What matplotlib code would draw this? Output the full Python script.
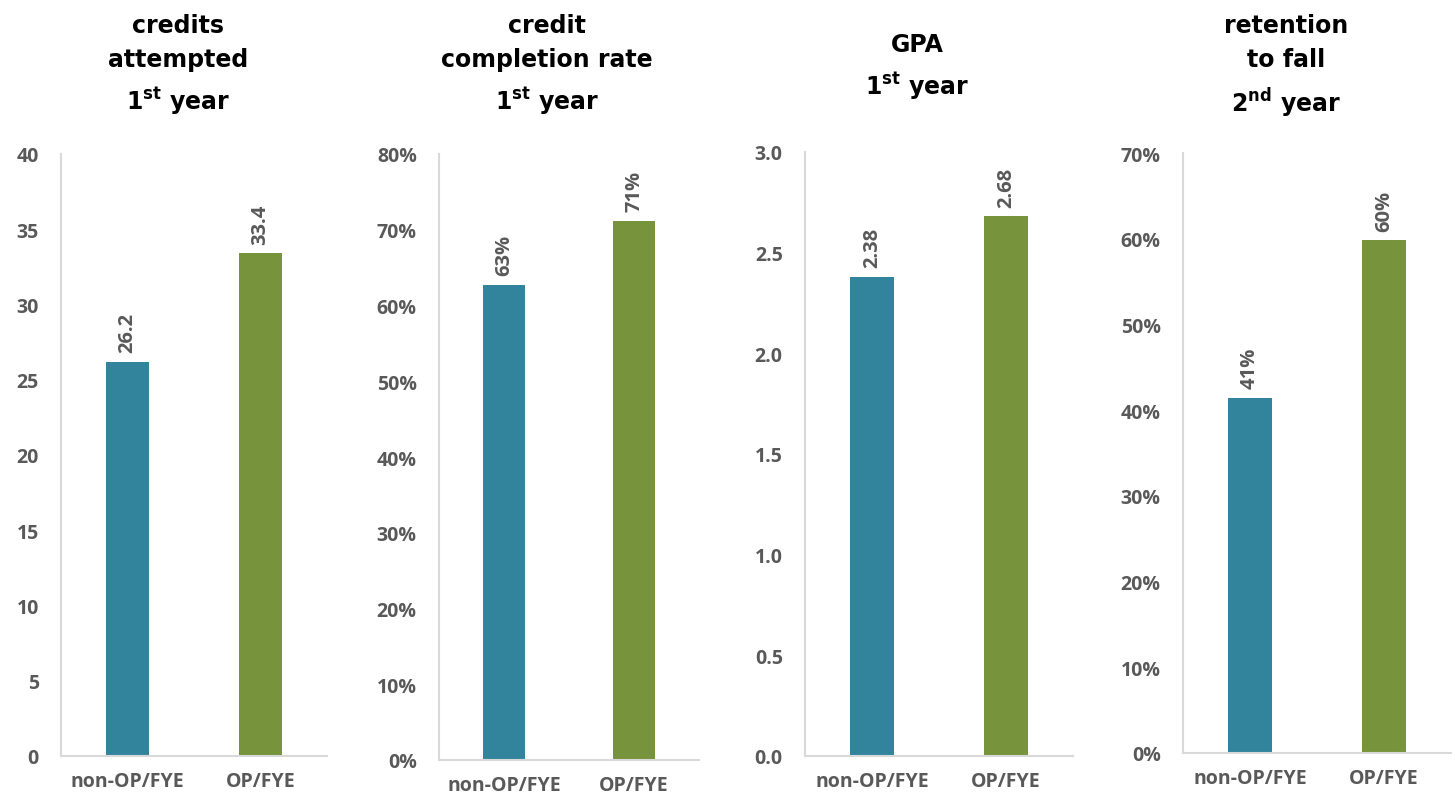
import matplotlib
matplotlib.use("Agg")
import matplotlib.pyplot as plt

# ---- data ----
groups = ["non-OP/FYE", "OP/FYE"]
credits_attempted = [26.2, 33.4]
completion_rate = [0.627, 0.712]
gpa = [2.38, 2.68]
retention = [0.414, 0.598]

titles = [
    "credits\nattempted\n1$^{\\mathbf{st}}$ year",
    "credit\ncompletion rate\n1$^{\\mathbf{st}}$ year",
    "GPA\n1$^{\\mathbf{st}}$ year",
    "retention\nto fall\n2$^{\\mathbf{nd}}$ year",
]
yticks = [
    [0, 5, 10, 15, 20, 25, 30, 35, 40],
    [0, .1, .2, .3, .4, .5, .6, .7, .8],
    [0, .5, 1.0, 1.5, 2.0, 2.5, 3.0],
    [0, .1, .2, .3, .4, .5, .6, .7],
]
tick_fmt = ["{:.0f}", "{:.0%}", "{:.1f}", "{:.0%}"]
label_fmt = ["{:.1f}", "{:.0%}", "{:.2f}", "{:.0%}"]

colors = ["#31849B", "#77933C"]
GREY = "#595959"
AXIS = "#D9D9D9"

plt.rcParams["font.family"] = ["Open Sans", "DejaVu Sans"]
plt.rcParams["mathtext.fontset"] = "dejavusans"

W, H = 1455, 804
fig = plt.figure(figsize=(W / 100, H / 100), dpi=100)

# panel boxes in pixels: left, right, top, bottom
boxes = [(61, 327, 155, 757), (439, 699, 155, 761),
         (805, 1073, 153, 757), (1183, 1451, 154, 754)]
title_x = [178, 547, 917, 1286]
title_top = [14, 14, 33, 14]

series = [credits_attempted, completion_rate, gpa, retention]

for i, vals in enumerate(series):
    l, r, t, b = boxes[i]
    ax = fig.add_axes([l / W, 1 - b / H, (r - l) / W, (b - t) / H])
    ax.bar(range(2), vals, width=0.33, color=colors)
    ax.set_xlim(-0.5, 1.5)
    ax.set_ylim(yticks[i][0], yticks[i][-1])
    ax.set_yticks(yticks[i])
    ax.set_yticklabels([tick_fmt[i].format(v) for v in yticks[i]])
    ax.set_xticks(range(2))
    ax.set_xticklabels(groups)
    for s in ["top", "right"]:
        ax.spines[s].set_visible(False)
    for s in ["left", "bottom"]:
        ax.spines[s].set_color(AXIS)
        ax.spines[s].set_linewidth(1.5)
    ax.tick_params(length=0, labelsize=14, labelcolor=GREY)
    ax.tick_params(axis="y", pad=16)
    ax.tick_params(axis="x", pad=11)
    for lab in ax.get_xticklabels() + ax.get_yticklabels():
        lab.set_fontweight("bold")
    for x, v in enumerate(vals):
        ax.annotate(label_fmt[i].format(v), (x, v), xytext=(0, 7),
                    textcoords="offset points", rotation=90,
                    ha="center", va="bottom", fontsize=14.5,
                    fontweight="bold", color=GREY)
    fig.text(title_x[i] / W, 1 - title_top[i] / H, titles[i],
             ha="center", va="top", fontsize=17, fontweight="bold",
             color="black", linespacing=1.55, family="DejaVu Sans")

fig.savefig("out.png", dpi=100)
